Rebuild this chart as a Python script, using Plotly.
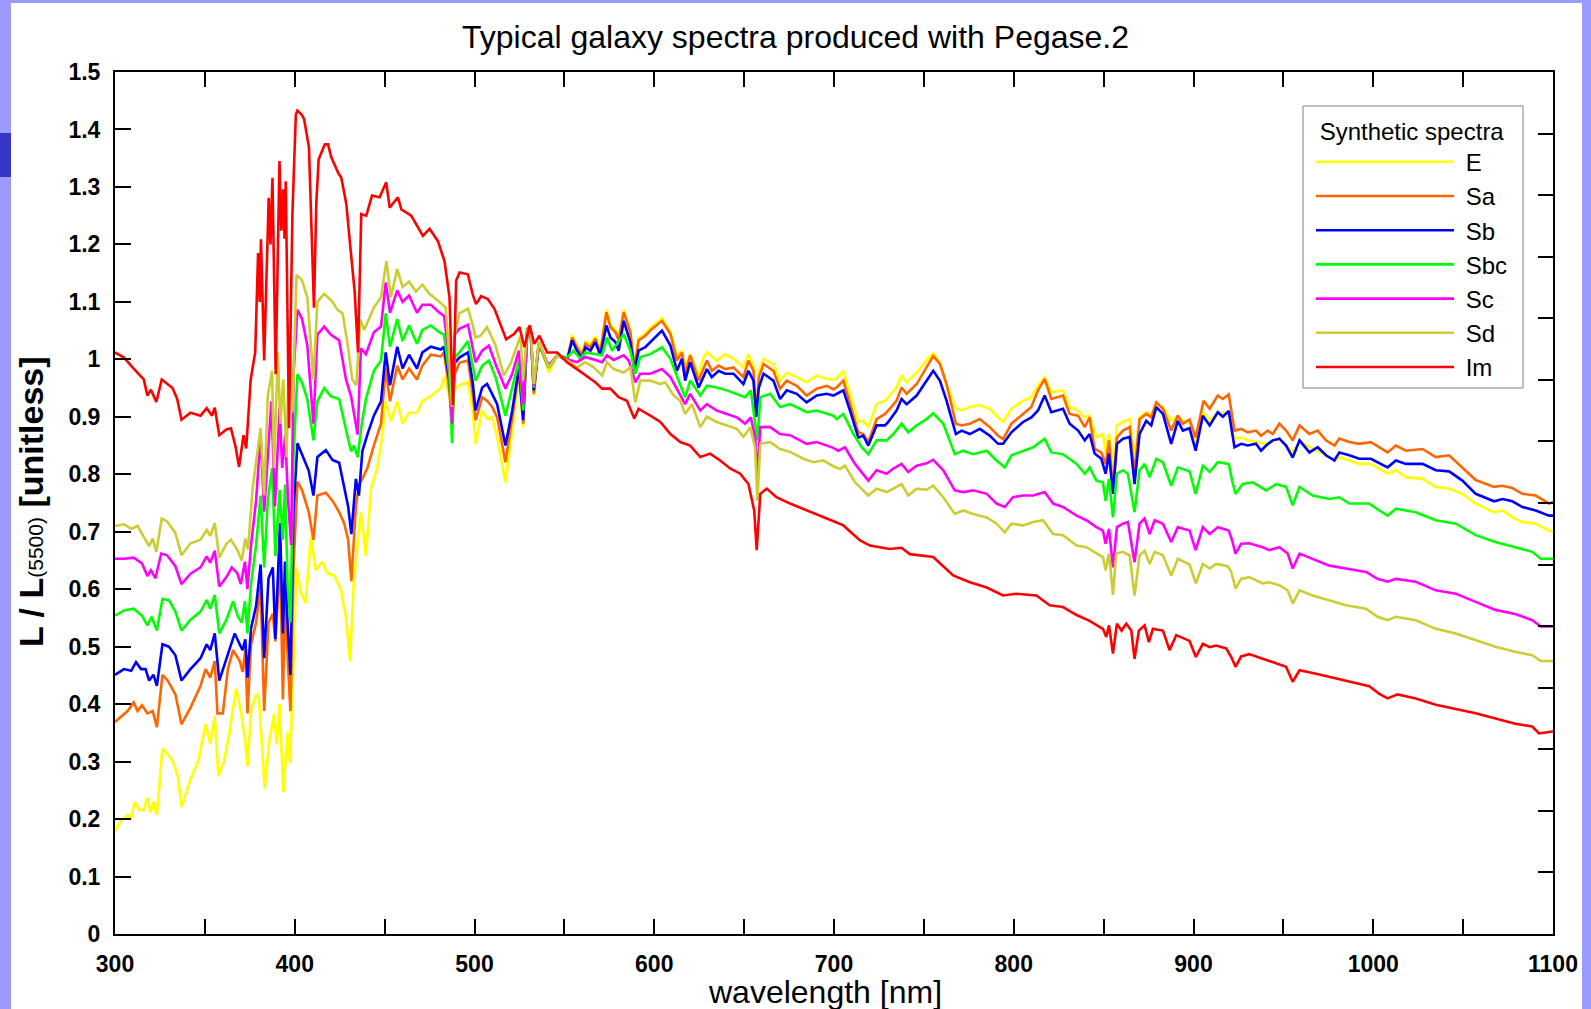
import plotly.graph_objects as go

# ---- Pegase.2 synthetic spectra, normalised to L(5500) ----
wl_e = [300, 303.4, 307, 309, 311, 313.6, 316, 318, 319.7, 321.4, 323.3, 326.4, 329.3, 332, 335, 337, 342, 346.4, 350.4, 353, 355.5, 357.5, 360.8, 363.6, 367.4, 370, 372.3, 373.7, 375.7, 378.5, 380, 383.3, 385.7, 388.5, 390, 391.5, 393.7, 396, 397.4, 399, 401, 403.4, 406, 409, 411.7, 415.4, 418, 422, 425.6, 428.5, 430.8, 432.8, 435, 436.8, 439.6, 442.4, 446, 448.8, 450.6, 453.5, 457, 460, 463.6, 468, 471, 475.7, 481.3, 483, 486, 487.5, 489, 491.6, 496.4, 499, 500.6, 504.3, 507, 509.8, 512.6, 517.2, 521, 524.7, 527.1, 529.3, 531.2, 533, 535.8, 541.3, 546, 551.5, 554.3, 557, 559.8, 561.7, 564.5, 567.2, 570, 573.4, 575.6, 578.4, 580.2, 583, 586.7, 589, 591.3, 595, 598.7, 604.3, 609, 612.6, 615.4, 617.2, 620, 624.7, 627.4, 629.3, 634.8, 639.5, 644.1, 649.6, 652.4, 655.2, 656.7, 658.2, 660.8, 666.3, 670, 673.7, 679.3, 684.8, 690.4, 696, 699.6, 701.5, 705.2, 708.9, 713.5, 716.3, 719.1, 723.7, 728.4, 730.2, 734.8, 737.6, 740.4, 746, 751.5, 755.2, 758.9, 762.6, 767.8, 771, 775.6, 781.1, 786.7, 791.3, 794.1, 798.7, 805.2, 809.8, 813.5, 817.2, 820.9, 827.4, 831.1, 835.8, 839.5, 842.2, 846, 849.6, 851.1, 853, 855.2, 857.4, 860.8, 864.5, 867.2, 870, 873.7, 876.5, 879.3, 883, 887.6, 891.3, 894.1, 897.8, 901.2, 905.6, 909, 913.5, 919.6, 922.8, 926.5, 930.2, 934.8, 940.4, 947.8, 955.2, 959, 969.1, 978.4, 981.1, 992.2, 998.7, 1008, 1012.6, 1018.2, 1027.4, 1034.8, 1042.2, 1049.6, 1057, 1067.2, 1071.9, 1077.4, 1083, 1090.4, 1097.8, 1100]
flux_e = [0.178, 0.197, 0.207, 0.202, 0.23, 0.216, 0.216, 0.237, 0.211, 0.23, 0.207, 0.323, 0.312, 0.302, 0.274, 0.221, 0.269, 0.302, 0.365, 0.331, 0.379, 0.274, 0.302, 0.35, 0.427, 0.388, 0.34, 0.292, 0.388, 0.417, 0.412, 0.253, 0.332, 0.383, 0.33, 0.4, 0.247, 0.35, 0.297, 0.45, 0.638, 0.595, 0.576, 0.691, 0.633, 0.648, 0.628, 0.624, 0.6, 0.552, 0.475, 0.61, 0.677, 0.734, 0.658, 0.774, 0.813, 0.869, 0.927, 0.893, 0.927, 0.888, 0.907, 0.907, 0.927, 0.936, 0.95, 0.969, 0.936, 0.888, 0.946, 0.955, 0.96, 0.91, 0.853, 0.911, 0.897, 0.899, 0.865, 0.786, 0.876, 0.969, 0.882, 1.053, 1.059, 0.937, 1.03, 0.977, 1.007, 1.0, 1.042, 1.025, 1.011, 1.031, 1.025, 1.04, 1.016, 1.086, 1.06, 1.051, 1.037, 1.086, 1.051, 0.99, 1.037, 1.045, 1.057, 1.071, 1.048, 1.007, 1.015, 0.985, 1.009, 0.972, 1.004, 1.012, 0.998, 1.009, 1.001, 0.986, 1.009, 0.989, 0.9, 0.98, 1.001, 0.992, 0.963, 0.977, 0.969, 0.96, 0.972, 0.966, 0.965, 0.966, 0.98, 0.94, 0.891, 0.893, 0.882, 0.922, 0.928, 0.934, 0.951, 0.972, 0.96, 0.977, 0.998, 1.01, 0.995, 0.957, 0.914, 0.911, 0.917, 0.92, 0.914, 0.899, 0.891, 0.914, 0.928, 0.934, 0.954, 0.969, 0.943, 0.946, 0.917, 0.911, 0.899, 0.902, 0.864, 0.87, 0.838, 0.87, 0.812, 0.885, 0.891, 0.896, 0.83, 0.899, 0.908, 0.905, 0.922, 0.917, 0.893, 0.902, 0.893, 0.89, 0.853, 0.908, 0.893, 0.908, 0.905, 0.862, 0.864, 0.859, 0.856, 0.853, 0.862, 0.838, 0.856, 0.841, 0.824, 0.83, 0.818, 0.818, 0.801, 0.807, 0.795, 0.792, 0.778, 0.775, 0.766, 0.749, 0.734, 0.737, 0.725, 0.717, 0.714, 0.702, 0.70]

wl_sa = [300, 303.4, 307, 310.4, 312.6, 315, 318, 321, 323.3, 326.4, 329.3, 333.6, 337, 342, 347.6, 350.4, 353, 355.5, 357, 360, 362.8, 365.7, 369.4, 371, 372.5, 373.7, 375.7, 378.5, 381, 383, 385.4, 387.8, 389.2, 390.6, 391.8, 393.4, 394.7, 396.3, 397.6, 399.3, 401.5, 404, 407.8, 410.4, 412.6, 417.3, 421, 424.7, 427.5, 429.7, 431.5, 434, 435.7, 437.6, 440.4, 444, 448, 450.6, 453, 457, 460, 463.6, 468, 471, 475.7, 481.3, 483, 486, 487.5, 489, 491.6, 496.4, 499, 500.6, 504.3, 507, 509.8, 512.6, 517.2, 521, 524.7, 527.1, 529.3, 531.2, 533, 535.8, 541.3, 546, 551.5, 554.3, 557, 559.8, 561.7, 564.5, 567.2, 570, 573.4, 575.6, 578.4, 580.2, 583, 586.7, 589, 591.3, 595, 598.7, 604.3, 609, 612.6, 615.4, 617.2, 620, 624.7, 629.3, 632, 635.8, 639.5, 644.1, 649.6, 652.4, 655.2, 656.7, 658.2, 660.8, 666.3, 670, 673.7, 679.3, 684.8, 690.4, 696, 699.6, 701.5, 705.2, 708.9, 713.5, 716.3, 719.1, 723.7, 728.4, 730.2, 734.8, 737.6, 740.4, 746, 751.5, 755.2, 758.9, 762.6, 767.8, 771, 775.6, 781.1, 786.7, 791.3, 794.1, 798.7, 805.2, 809.8, 813.5, 817.2, 820.9, 827.4, 831.1, 835.8, 839.5, 842.2, 845, 848.7, 851.1, 853, 855.2, 857.4, 860.8, 864.5, 867.2, 870, 873.7, 876.5, 879.3, 883, 887.6, 891.3, 894.1, 897.8, 901.2, 905.6, 909, 913.5, 916.3, 919.6, 922.8, 926.5, 930.2, 934.8, 937.6, 941.3, 944.1, 947.8, 951.5, 955.2, 959, 964.5, 969.1, 973.7, 978.4, 981.1, 986.7, 992.2, 998.7, 1008, 1012.6, 1018.2, 1027.4, 1034.8, 1042.2, 1049.6, 1057, 1067.2, 1071.9, 1077.4, 1083, 1090.4, 1097.8, 1100]
flux_sa = [0.369, 0.379, 0.388, 0.403, 0.388, 0.398, 0.384, 0.388, 0.36, 0.451, 0.441, 0.417, 0.365, 0.394, 0.432, 0.461, 0.446, 0.475, 0.384, 0.384, 0.461, 0.494, 0.475, 0.456, 0.494, 0.384, 0.504, 0.542, 0.605, 0.388, 0.542, 0.557, 0.509, 0.581, 0.667, 0.408, 0.581, 0.465, 0.388, 0.638, 0.787, 0.773, 0.734, 0.686, 0.763, 0.768, 0.754, 0.734, 0.715, 0.686, 0.614, 0.744, 0.782, 0.792, 0.811, 0.85, 0.888, 0.984, 0.927, 0.989, 0.965, 0.984, 0.965, 0.989, 1.008, 1.005, 1.012, 0.946, 0.888, 0.974, 0.994, 0.998, 0.94, 0.894, 0.934, 0.928, 0.917, 0.899, 0.821, 0.899, 0.98, 0.888, 1.053, 1.056, 0.94, 1.03, 0.986, 1.007, 0.998, 1.038, 1.021, 1.007, 1.027, 1.021, 1.036, 1.012, 1.082, 1.056, 1.047, 1.033, 1.082, 1.047, 0.986, 1.033, 1.041, 1.053, 1.067, 1.044, 0.998, 1.012, 0.975, 1.007, 0.963, 0.998, 0.98, 0.989, 0.983, 0.986, 0.969, 0.998, 0.98, 0.9, 0.969, 0.992, 0.98, 0.949, 0.963, 0.954, 0.937, 0.949, 0.954, 0.948, 0.951, 0.963, 0.922, 0.873, 0.87, 0.856, 0.896, 0.905, 0.911, 0.928, 0.951, 0.94, 0.957, 0.986, 1.006, 0.992, 0.957, 0.888, 0.885, 0.888, 0.896, 0.882, 0.867, 0.861, 0.888, 0.905, 0.917, 0.946, 0.966, 0.931, 0.937, 0.905, 0.902, 0.882, 0.899, 0.844, 0.838, 0.818, 0.859, 0.772, 0.864, 0.876, 0.882, 0.801, 0.896, 0.905, 0.899, 0.925, 0.914, 0.876, 0.902, 0.888, 0.895, 0.864, 0.928, 0.914, 0.937, 0.931, 0.939, 0.876, 0.879, 0.873, 0.876, 0.867, 0.876, 0.87, 0.888, 0.876, 0.859, 0.885, 0.87, 0.876, 0.859, 0.85, 0.862, 0.856, 0.853, 0.856, 0.838, 0.85, 0.841, 0.844, 0.83, 0.833, 0.812, 0.79, 0.778, 0.78, 0.776, 0.766, 0.763, 0.749, 0.752]

wl_sb = [300, 305, 309, 311.7, 314.5, 317, 319, 321.4, 323.3, 326.4, 330, 333.6, 337, 342, 347.6, 351, 353, 355.5, 358, 362, 366.6, 369.4, 371, 372.5, 373.7, 375.7, 378.5, 381, 383, 385.4, 387.8, 389.2, 390.6, 391.8, 393.4, 394.6, 396, 397.6, 399.3, 401.5, 404, 407.8, 410.4, 412.6, 417.3, 421, 424.7, 427.5, 429.7, 431.5, 434, 435.7, 437.6, 440.4, 444, 448, 450.6, 453, 457, 460, 463.6, 468, 471, 475.7, 481.3, 483, 486, 487.5, 489, 491.6, 496.4, 499, 500.6, 504.3, 507, 509.8, 512.6, 517.2, 521, 524.7, 527.1, 529.3, 531.2, 533, 535.8, 541.3, 546, 551.5, 554.3, 557, 559.8, 561.7, 564.5, 567.2, 570, 573.4, 575.6, 578.4, 580.2, 583, 586.7, 589, 591.3, 595, 598.7, 604.3, 609, 612.6, 615.4, 617.2, 620, 624.7, 629.3, 632, 635.8, 639.5, 644.1, 649.6, 652.4, 655.2, 656.7, 658.2, 660.8, 666.3, 670, 673.7, 679.3, 684.8, 690.4, 696, 699.6, 701.5, 705.2, 708.9, 713.5, 716.3, 719.1, 723.7, 728.4, 730.2, 734.8, 737.6, 740.4, 746, 751.5, 755.2, 758.9, 762.6, 767.8, 771, 775.6, 781.1, 786.7, 791.3, 794.1, 798.7, 805.2, 809.8, 813.5, 817.2, 820.9, 827.4, 831.1, 835.8, 839.5, 842.2, 845, 848.7, 851.1, 853, 855.2, 857.4, 860.8, 864.5, 867.2, 870, 873.7, 876.5, 879.3, 883, 887.6, 891.3, 894.1, 897.8, 901.2, 905.2, 909, 913.5, 916.3, 919.6, 922.8, 926.5, 930.2, 934.8, 937.6, 940.4, 944.1, 947.8, 951.5, 955.2, 959, 964.5, 969.1, 973.7, 978.4, 981.1, 986.7, 992.2, 998.7, 1008, 1012.6, 1018.2, 1027.4, 1034.8, 1042.2, 1049.6, 1057, 1067.2, 1071.9, 1077.4, 1083, 1090.4, 1097.8, 1100]
flux_sb = [0.451, 0.461, 0.458, 0.473, 0.461, 0.461, 0.441, 0.451, 0.432, 0.504, 0.5, 0.485, 0.441, 0.461, 0.48, 0.504, 0.494, 0.523, 0.441, 0.48, 0.523, 0.504, 0.494, 0.513, 0.446, 0.532, 0.571, 0.643, 0.48, 0.619, 0.638, 0.513, 0.609, 0.715, 0.523, 0.648, 0.542, 0.451, 0.735, 0.854, 0.835, 0.806, 0.763, 0.83, 0.842, 0.825, 0.82, 0.777, 0.744, 0.696, 0.792, 0.763, 0.84, 0.869, 0.902, 0.927, 1.012, 0.955, 1.022, 0.984, 1.008, 0.984, 1.012, 1.022, 1.017, 1.022, 0.965, 0.888, 0.994, 1.003, 1.012, 0.96, 0.911, 0.951, 0.957, 0.94, 0.922, 0.85, 0.911, 0.986, 0.894, 1.05, 1.053, 0.946, 1.027, 0.986, 1.007, 0.998, 1.033, 1.015, 1.001, 1.021, 1.015, 1.03, 1.007, 1.059, 1.038, 1.03, 1.015, 1.067, 1.03, 0.98, 1.015, 1.021, 1.033, 1.05, 1.024, 0.98, 1.001, 0.963, 0.995, 0.951, 0.983, 0.969, 0.98, 0.975, 0.975, 0.957, 0.98, 0.963, 0.9, 0.951, 0.975, 0.963, 0.931, 0.946, 0.94, 0.925, 0.937, 0.94, 0.937, 0.94, 0.946, 0.911, 0.864, 0.867, 0.85, 0.885, 0.885, 0.891, 0.911, 0.931, 0.922, 0.937, 0.963, 0.98, 0.963, 0.928, 0.87, 0.876, 0.87, 0.879, 0.867, 0.853, 0.853, 0.873, 0.891, 0.899, 0.911, 0.937, 0.908, 0.914, 0.888, 0.876, 0.859, 0.87, 0.836, 0.827, 0.801, 0.836, 0.766, 0.853, 0.862, 0.865, 0.783, 0.87, 0.893, 0.885, 0.917, 0.905, 0.853, 0.893, 0.876, 0.88, 0.841, 0.902, 0.885, 0.908, 0.9, 0.91, 0.847, 0.853, 0.85, 0.853, 0.841, 0.85, 0.859, 0.862, 0.85, 0.829, 0.859, 0.838, 0.847, 0.833, 0.824, 0.838, 0.833, 0.827, 0.827, 0.812, 0.824, 0.818, 0.818, 0.807, 0.805, 0.789, 0.766, 0.753, 0.757, 0.753, 0.743, 0.737, 0.728, 0.728]

wl_sbc = [300, 305, 310.4, 315, 318, 320.4, 323.3, 326.4, 330, 333.6, 337, 342, 347.6, 351, 353, 355.5, 358, 362, 365.7, 368.4, 370.5, 372.3, 373.7, 375.7, 378.5, 381, 383, 385, 387.4, 389.2, 391.6, 393.4, 394.6, 396, 397.6, 399.3, 401.5, 404, 407, 410.4, 412.6, 416.4, 420, 424.7, 428.5, 431.3, 433, 435, 437.3, 439.6, 444, 448, 450.6, 453, 457, 460, 463.6, 468, 471, 475.7, 480.5, 483, 486, 487.5, 489, 491.6, 496.4, 499, 500.6, 504.3, 508, 511.7, 517.2, 521, 524.7, 527.1, 529.3, 531.2, 533, 535.8, 541.3, 546, 551.5, 555.1, 558.9, 561.7, 567.2, 571, 573.7, 576.5, 579.3, 583, 586.7, 589.5, 592.2, 597.8, 604.3, 609, 613.5, 617.2, 620, 625.6, 629.3, 634.8, 640.4, 646, 650.6, 653.7, 656.1, 657.4, 659, 664.5, 670, 675.6, 681.1, 684.8, 690.4, 696, 699.6, 701.5, 705.2, 710.8, 715.4, 719.1, 723.7, 729.3, 733, 737.6, 741.3, 746, 751.5, 755.2, 760.8, 767.2, 771.9, 777.4, 785, 790.4, 795, 798.7, 805.2, 810.8, 817.2, 820.9, 827.4, 835, 839.5, 842.2, 846, 849.6, 851.1, 853, 855.2, 857.4, 860.8, 863.5, 867.2, 870, 872.8, 875.6, 879.3, 883, 887.6, 891.3, 897.8, 901.2, 905.2, 909, 913.5, 919.6, 921.5, 923.4, 927.4, 933, 940.4, 946, 951.5, 955.2, 959, 966.3, 975.6, 981.1, 986.7, 997.8, 1003.4, 1008, 1012.6, 1023.7, 1034.8, 1046, 1057, 1068, 1079, 1088.5, 1093.2, 1100]
flux_sbc = [0.554, 0.563, 0.566, 0.554, 0.537, 0.552, 0.528, 0.583, 0.581, 0.561, 0.528, 0.547, 0.561, 0.581, 0.566, 0.59, 0.523, 0.547, 0.579, 0.552, 0.542, 0.579, 0.523, 0.61, 0.677, 0.763, 0.638, 0.754, 0.811, 0.658, 0.773, 0.686, 0.782, 0.61, 0.542, 0.83, 0.974, 0.96, 0.931, 0.859, 0.927, 0.95, 0.936, 0.931, 0.878, 0.84, 0.85, 0.83, 0.888, 0.931, 0.98, 0.998, 1.08, 1.022, 1.07, 1.032, 1.059, 1.027, 1.051, 1.059, 1.047, 1.043, 0.974, 0.854, 1.003, 1.012, 1.032, 0.99, 0.963, 0.989, 0.998, 0.969, 0.902, 0.951, 0.998, 0.911, 1.044, 1.047, 0.951, 1.027, 0.986, 1.007, 1.003, 1.015, 1.001, 1.012, 1.009, 1.007, 1.038, 1.015, 1.027, 1.044, 1.015, 0.975, 1.004, 1.009, 1.021, 1.001, 0.963, 0.934, 0.963, 0.937, 0.954, 0.951, 0.946, 0.94, 0.934, 0.946, 0.894, 0.859, 0.934, 0.94, 0.917, 0.922, 0.914, 0.908, 0.911, 0.905, 0.902, 0.896, 0.905, 0.87, 0.847, 0.835, 0.859, 0.859, 0.87, 0.888, 0.873, 0.885, 0.896, 0.906, 0.888, 0.835, 0.841, 0.835, 0.841, 0.824, 0.812, 0.833, 0.841, 0.847, 0.862, 0.838, 0.835, 0.818, 0.801, 0.812, 0.789, 0.786, 0.754, 0.792, 0.725, 0.801, 0.807, 0.801, 0.734, 0.807, 0.818, 0.795, 0.827, 0.821, 0.78, 0.812, 0.805, 0.766, 0.815, 0.804, 0.821, 0.818, 0.789, 0.766, 0.783, 0.786, 0.772, 0.783, 0.778, 0.746, 0.778, 0.763, 0.757, 0.76, 0.749, 0.749, 0.737, 0.728, 0.74, 0.734, 0.72, 0.714, 0.694, 0.682, 0.673, 0.665, 0.653, 0.653]

wl_sc = [300, 305, 310.4, 315, 318, 320, 322.5, 325.7, 329, 333.6, 337, 342, 347.6, 351, 353, 355.5, 358, 362, 365, 368, 370, 372.3, 373.7, 375.7, 378.5, 381, 383, 385.4, 387, 389, 391.6, 393, 394.7, 396.3, 398, 399.3, 401.5, 404, 407, 410.4, 412.6, 416.4, 420, 424.7, 428.5, 431.3, 435, 436.8, 439.6, 444, 448, 450.6, 453, 457, 460, 463.6, 468, 471, 475.7, 480.5, 483, 486, 487.5, 489, 491.6, 496.4, 499, 500.6, 504.3, 508, 511.7, 517.2, 521, 524.7, 527.1, 529.3, 531.2, 533, 535.8, 541.3, 546, 551.5, 557, 561.7, 567.2, 571, 573.7, 577.4, 583, 585.8, 589.5, 592.2, 597.8, 604.3, 609, 613.5, 617.2, 620, 625.6, 629.3, 634.8, 640.4, 646, 650.6, 653.7, 656.1, 657.4, 659, 664.5, 670, 675.6, 681.1, 684.8, 690.4, 696, 699.6, 702.4, 706.1, 711.7, 716.3, 719.1, 723.7, 729.3, 733, 737.6, 741.3, 746, 751.5, 755.2, 760.8, 767.2, 771.9, 777.4, 785, 790.4, 795, 799.6, 805.2, 810.8, 817.2, 821.9, 827.4, 835, 840.4, 846, 849.6, 851.1, 853, 855.2, 857.4, 860.8, 863.5, 867.2, 870, 872.8, 875.6, 878.4, 883, 887.6, 891.3, 897.8, 901.2, 905.2, 909, 913.5, 919.6, 921.5, 923.4, 926.5, 931, 938.5, 942.2, 947.8, 952.4, 955.2, 959, 966.3, 975.6, 984.8, 996, 1002.4, 1008, 1012.6, 1023.7, 1034.8, 1046, 1057, 1068, 1079, 1088.5, 1093.2, 1100]
flux_sc = [0.653, 0.653, 0.655, 0.645, 0.623, 0.633, 0.619, 0.662, 0.659, 0.64, 0.609, 0.627, 0.638, 0.657, 0.646, 0.667, 0.605, 0.621, 0.638, 0.628, 0.609, 0.648, 0.6, 0.677, 0.754, 0.869, 0.735, 0.85, 0.927, 0.744, 0.917, 0.811, 0.869, 0.754, 0.677, 0.974, 1.086, 1.071, 1.024, 0.888, 1.043, 1.057, 1.043, 1.033, 0.965, 0.936, 0.869, 1.019, 1.009, 1.047, 1.057, 1.134, 1.081, 1.12, 1.1, 1.111, 1.081, 1.095, 1.095, 1.081, 1.076, 1.003, 0.888, 1.043, 1.053, 1.06, 1.02, 0.995, 1.015, 1.024, 0.992, 0.949, 0.975, 1.015, 0.922, 1.044, 1.05, 0.954, 1.027, 0.989, 1.007, 1.0, 0.995, 1.004, 0.999, 0.995, 1.007, 0.999, 1.007, 0.998, 0.96, 0.975, 0.975, 0.983, 0.969, 0.943, 0.922, 0.94, 0.911, 0.922, 0.911, 0.905, 0.899, 0.888, 0.899, 0.865, 0.801, 0.882, 0.882, 0.87, 0.868, 0.859, 0.853, 0.856, 0.85, 0.846, 0.841, 0.847, 0.818, 0.801, 0.789, 0.807, 0.801, 0.81, 0.818, 0.804, 0.815, 0.819, 0.825, 0.807, 0.772, 0.769, 0.772, 0.766, 0.749, 0.743, 0.76, 0.763, 0.763, 0.769, 0.749, 0.743, 0.728, 0.72, 0.708, 0.702, 0.679, 0.705, 0.638, 0.708, 0.714, 0.717, 0.647, 0.714, 0.723, 0.696, 0.72, 0.714, 0.682, 0.708, 0.702, 0.668, 0.708, 0.696, 0.708, 0.702, 0.685, 0.662, 0.679, 0.68, 0.673, 0.668, 0.673, 0.662, 0.636, 0.662, 0.653, 0.641, 0.636, 0.63, 0.618, 0.613, 0.618, 0.613, 0.598, 0.592, 0.578, 0.564, 0.557, 0.546, 0.535, 0.535]

wl_sd = [300, 305, 309, 312.6, 316, 319, 321, 323, 326, 329, 333.6, 337, 342, 347.6, 351, 353, 355.5, 358, 362, 364.5, 368, 370.5, 372.5, 374, 376.5, 379.5, 381, 383, 385, 387.4, 388.5, 390.6, 392, 393.6, 395.5, 397, 398.7, 401, 404, 407, 410.4, 412.6, 416.4, 421, 423.8, 426.6, 429.4, 432, 434.3, 436.4, 438.6, 444, 448, 451, 453.5, 457, 460, 463.6, 467.4, 471, 475, 480.5, 484, 486, 487.5, 489, 491.6, 496.4, 499, 500.6, 503.4, 507, 511.7, 516.3, 520, 523.7, 525.6, 527, 529.3, 531.2, 533, 535.8, 541.3, 546, 551.5, 557, 561.7, 566.3, 571, 573.7, 577.4, 583, 586.7, 589.5, 592.2, 597.8, 603.4, 606.1, 610.8, 614.5, 617.2, 621, 625.6, 629.3, 634.8, 640.4, 646, 649.6, 653.4, 656.1, 657.4, 659, 664.5, 670, 675.6, 683, 688.5, 694, 699.6, 703.4, 706.1, 711.7, 716.3, 719.1, 723.7, 729.3, 733, 737.6, 741.3, 746, 751.5, 755.2, 760.8, 767.2, 771.9, 777.4, 785, 790.4, 795, 798.7, 805.2, 810.8, 816.3, 821.9, 827.4, 835, 840.4, 846, 849.6, 851.1, 853, 855.2, 857, 860.8, 864.5, 867.2, 870, 872.8, 875.6, 878.4, 883, 887.6, 891.3, 897.8, 901.3, 905.2, 909, 912.6, 919.1, 921, 923.4, 926.5, 931, 938.5, 942.2, 947.8, 952.4, 955.2, 959, 966.3, 975.6, 984.8, 996, 1002.4, 1008, 1012.6, 1023.7, 1034.8, 1046, 1057, 1068, 1079, 1088.5, 1093.2, 1100]
flux_sd = [0.71, 0.713, 0.705, 0.71, 0.691, 0.675, 0.688, 0.665, 0.723, 0.718, 0.698, 0.659, 0.68, 0.686, 0.703, 0.693, 0.715, 0.655, 0.679, 0.686, 0.669, 0.65, 0.688, 0.669, 0.774, 0.85, 0.88, 0.763, 0.936, 0.98, 0.811, 1.012, 0.888, 0.965, 0.83, 1.051, 0.907, 1.147, 1.138, 1.108, 0.965, 1.1, 1.114, 1.1, 1.086, 1.08, 1.027, 0.965, 0.955, 1.07, 1.051, 1.09, 1.108, 1.171, 1.108, 1.157, 1.126, 1.135, 1.118, 1.13, 1.114, 1.1, 1.09, 1.003, 0.917, 1.041, 1.08, 1.088, 1.06, 1.038, 1.041, 1.056, 1.024, 0.972, 0.992, 1.024, 1.041, 0.963, 1.05, 1.059, 0.957, 1.03, 0.986, 1.007, 0.998, 0.986, 0.995, 0.986, 0.972, 0.995, 0.983, 0.977, 0.986, 0.925, 0.963, 0.963, 0.957, 0.96, 0.937, 0.928, 0.905, 0.922, 0.882, 0.9, 0.891, 0.885, 0.879, 0.865, 0.882, 0.847, 0.754, 0.853, 0.856, 0.844, 0.839, 0.827, 0.821, 0.824, 0.814, 0.809, 0.815, 0.786, 0.772, 0.763, 0.775, 0.769, 0.775, 0.783, 0.763, 0.775, 0.773, 0.78, 0.76, 0.731, 0.737, 0.731, 0.725, 0.714, 0.699, 0.714, 0.711, 0.717, 0.72, 0.696, 0.694, 0.676, 0.673, 0.662, 0.656, 0.633, 0.662, 0.59, 0.662, 0.665, 0.659, 0.589, 0.659, 0.667, 0.644, 0.665, 0.659, 0.624, 0.653, 0.643, 0.61, 0.644, 0.636, 0.644, 0.64, 0.63, 0.601, 0.618, 0.621, 0.61, 0.612, 0.607, 0.598, 0.575, 0.598, 0.589, 0.581, 0.572, 0.566, 0.552, 0.546, 0.552, 0.546, 0.531, 0.523, 0.511, 0.5, 0.491, 0.485, 0.475, 0.475]

wl_im = [300, 305, 310.4, 316, 318, 320, 323, 326, 332, 334.6, 337, 342, 347.6, 351, 354, 355.5, 358, 362, 364.5, 367, 369, 371.5, 373, 374, 375.5, 378, 379.6, 380.5, 381.2, 383, 385.5, 386.5, 387.6, 389.4, 391.5, 392.5, 393.6, 394.3, 395, 396.8, 398.7, 400.6, 401.5, 404, 405.2, 407.9, 410.7, 412, 413.3, 416.7, 418.5, 420.4, 424.1, 425.9, 428.7, 430.6, 433.3, 435.2, 437, 439.8, 443, 447.2, 450.9, 452.8, 457.4, 459.3, 464.8, 471.3, 475, 479.6, 483.3, 486.1, 488, 489.8, 491.7, 496.3, 499, 500.9, 503.7, 507.4, 511.1, 517.6, 522, 525, 527.8, 530.6, 533.3, 536.1, 540.4, 546, 551.5, 557, 561.7, 567.2, 571, 575.6, 580.2, 584.8, 588.9, 591.3, 597.8, 603.4, 609, 614.5, 620, 625.6, 631.1, 636.7, 642.2, 647.8, 652.4, 655.6, 657, 659, 662.6, 668, 675.6, 683, 690.4, 696, 701.5, 705.2, 714.5, 720, 731, 737.6, 742.2, 755.2, 766.3, 775.6, 785, 794, 801.5, 812.6, 820, 827.4, 835, 842.2, 849.6, 851.5, 853, 855.2, 857.4, 860, 862.6, 865.4, 867.2, 869.6, 872.8, 875.2, 877.4, 883, 886.7, 890.4, 897.8, 901.3, 905.2, 909, 912.6, 918.2, 921, 923.4, 926.5, 931, 938.5, 944, 951.5, 955.2, 959, 968.2, 977.4, 986.7, 997.8, 1003.4, 1008, 1013.5, 1023.7, 1034.8, 1046, 1057, 1068, 1079, 1088.5, 1092.2, 1098.7, 1100]
flux_im = [1.012, 1.003, 0.984, 0.965, 0.937, 0.947, 0.926, 0.965, 0.95, 0.931, 0.895, 0.907, 0.902, 0.915, 0.902, 0.916, 0.868, 0.878, 0.88, 0.849, 0.813, 0.868, 0.845, 0.888, 0.965, 1.012, 1.185, 1.1, 1.209, 0.998, 1.281, 1.2, 1.316, 0.974, 1.345, 1.224, 1.296, 1.21, 1.31, 0.88, 1.252, 1.426, 1.433, 1.425, 1.418, 1.369, 1.09, 1.272, 1.348, 1.374, 1.374, 1.351, 1.325, 1.316, 1.27, 1.206, 1.119, 1.012, 1.253, 1.25, 1.285, 1.282, 1.308, 1.264, 1.282, 1.261, 1.25, 1.215, 1.227, 1.206, 1.171, 1.108, 0.92, 1.137, 1.151, 1.148, 1.113, 1.096, 1.11, 1.105, 1.088, 1.035, 1.044, 1.056, 1.021, 1.059, 1.027, 1.041, 1.012, 1.012, 0.995, 0.983, 0.972, 0.96, 0.949, 0.949, 0.934, 0.928, 0.897, 0.914, 0.902, 0.891, 0.87, 0.856, 0.85, 0.83, 0.836, 0.824, 0.81, 0.801, 0.783, 0.737, 0.668, 0.766, 0.775, 0.76, 0.749, 0.74, 0.731, 0.723, 0.716, 0.711, 0.685, 0.676, 0.67, 0.672, 0.661, 0.656, 0.624, 0.612, 0.603, 0.589, 0.592, 0.589, 0.572, 0.569, 0.555, 0.545, 0.531, 0.517, 0.537, 0.488, 0.54, 0.528, 0.54, 0.528, 0.479, 0.528, 0.537, 0.508, 0.531, 0.528, 0.494, 0.52, 0.51, 0.482, 0.505, 0.499, 0.502, 0.497, 0.482, 0.465, 0.483, 0.487, 0.479, 0.473, 0.465, 0.439, 0.459, 0.453, 0.446, 0.439, 0.431, 0.418, 0.41, 0.417, 0.41, 0.399, 0.392, 0.384, 0.375, 0.366, 0.361, 0.349, 0.352, 0.353]

series_names = ["E", "Sa", "Sb", "Sbc", "Sc", "Sd", "Im"]
series_colors = ["#ffff00", "#ff6600", "#0000ff", "#00ff00", "#ff00ff", "#cccc33", "#ff0000"]
series_wl = [wl_e, wl_sa, wl_sb, wl_sbc, wl_sc, wl_sd, wl_im]
series_flux = [flux_e, flux_sa, flux_sb, flux_sbc, flux_sc, flux_sd, flux_im]

y_ticks = [round(0.1 * i, 1) for i in range(16)]
y_ticktext = ["0", "0.1", "0.2", "0.3", "0.4", "0.5", "0.6", "0.7", "0.8", "0.9",
              "1", "1.1", "1.2", "1.3", "1.4", "1.5"]
x_ticks = list(range(300, 1101, 50))
x_ticktext = [str(v) if v % 100 == 0 else "" for v in x_ticks]

FONT = "Liberation Sans, Arial, sans-serif"
W, H = 1591, 1009
ML, MR, MT, MB = 115, 38, 72, 75
PW, PH = W - ML - MR, H - MT - MB


def px_to_paper(x, y):
    return (x - ML) / PW, (H - MB - y) / PH


fig = go.Figure()
for name, color, wl, fl in zip(series_names, series_colors, series_wl, series_flux):
    fig.add_trace(go.Scatter(
        x=wl, y=fl, name=" " + name, mode="lines", legendgroup=name,
        line=dict(color=color, width=2.6),
    ))

# invisible carrier for the right-hand tick axis
fig.add_trace(go.Scatter(x=[300], y=[0], yaxis="y2", mode="markers",
                         marker=dict(opacity=0), showlegend=False, hoverinfo="skip"))

# white sheet on the lavender page, the small dark tab at the left edge,
# and the framed panel behind the legend
sx0, sy1 = px_to_paper(11, 3)
sx1, sy0 = px_to_paper(1582, 1040)
tx0, ty1 = px_to_paper(-2, 133)
tx1, ty0 = px_to_paper(11, 177)
bx0, by1 = px_to_paper(1303, 106)
bx1, by0 = px_to_paper(1523, 388)
shapes = [
    dict(type="rect", xref="paper", yref="paper", x0=sx0, x1=sx1, y0=sy0, y1=sy1,
         fillcolor="white", line=dict(width=0), layer="below"),
    dict(type="rect", xref="paper", yref="paper", x0=tx0, x1=tx1, y0=ty0, y1=ty1,
         fillcolor="#3535c8", line=dict(width=0), layer="below"),
    dict(type="rect", xref="paper", yref="paper", x0=bx0, x1=bx1, y0=by0, y1=by1,
         fillcolor="white", line=dict(color="#7f7f7f", width=1), layer="above"),
]

xt_x, xt_y = px_to_paper(825, 992)
yt_x, yt_y = px_to_paper(31, 502)
legx, legy = px_to_paper(1311, 108.5)

fig.update_layout(
    width=W, height=H,
    margin=dict(l=ML, r=MR, t=MT, b=MB, pad=0),
    paper_bgcolor="#9b9bff",
    plot_bgcolor="white",
    shapes=shapes,
    title=dict(text="Typical galaxy spectra produced with Pegase.2",
               x=0.5, xanchor="center", xref="container",
               y=1 - 37 / H, yanchor="middle", yref="container",
               font=dict(family=FONT, size=32, color="black")),
    annotations=[
        dict(text="wavelength [nm]", xref="paper", yref="paper", x=xt_x, y=xt_y,
             xanchor="center", yanchor="middle", showarrow=False,
             font=dict(family=FONT, size=32, color="black")),
        dict(text="<b>L / L</b><span style='font-size:21px'>(5500)</span><b> [unitless]</b>",
             xref="paper", yref="paper", x=yt_x, y=yt_y, textangle=-90,
             xanchor="center", yanchor="middle", showarrow=False,
             font=dict(family=FONT, size=34, color="black")),
    ],
    xaxis=dict(range=[300, 1100], tickvals=x_ticks, ticktext=x_ticktext,
               ticks="inside", ticklen=15, tickwidth=2, tickcolor="black",
               showline=True, linewidth=2, linecolor="black", mirror="ticks",
               showgrid=False, zeroline=False, ticklabelstandoff=8,
               tickfont=dict(family=FONT, size=23, color="black", weight="bold")),
    yaxis=dict(range=[0, 1.5], tickvals=y_ticks, ticktext=y_ticktext,
               ticks="inside", ticklen=16, tickwidth=2, tickcolor="black",
               showline=True, linewidth=2, linecolor="black", mirror=False,
               showgrid=False, zeroline=False, ticklabelstandoff=8,
               tickfont=dict(family=FONT, size=23, color="black", weight="bold")),
    yaxis2=dict(overlaying="y", side="right", range=[0, 14],
                tickvals=list(range(15)), showticklabels=False,
                ticks="inside", ticklen=15, tickwidth=2, tickcolor="black",
                showline=True, linewidth=2, linecolor="black",
                showgrid=False, zeroline=False),
    legend=dict(x=legx, y=legy, xanchor="left", yanchor="top",
                bgcolor="rgba(0,0,0,0)", borderwidth=0,
                traceorder="grouped", tracegroupgap=0, itemwidth=138,
                font=dict(family=FONT, size=24, color="black"),
                title=dict(text="Synthetic spectra", side="top center",
                           font=dict(family=FONT, size=24, color="black"))),
    showlegend=True,
)

fig.write_html("out.html")
